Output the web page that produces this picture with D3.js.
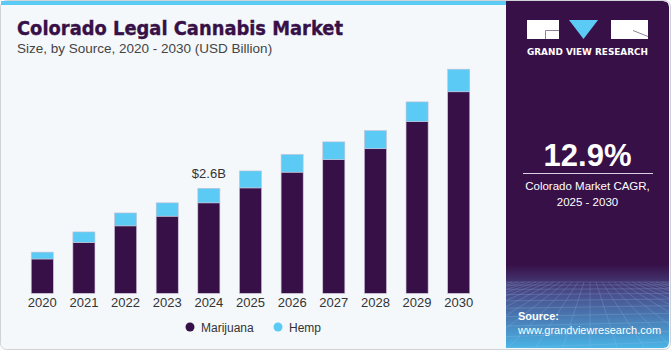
<!DOCTYPE html>
<html>
<head>
<meta charset="utf-8">
<script src="https://cdn.jsdelivr.net/npm/d3@7"></script>
<style>
  html, body { margin: 0; padding: 0; background: #fff; }
  svg { display: block; font-family: "Liberation Sans", Arial, sans-serif; }
</style>
</head>
<body>
<div id="chart"></div>
<script>
// data (USD billion)
const years     = ["2020","2021","2022","2023","2024","2025","2026","2027","2028","2029","2030"];
const marijuana = [0.85, 1.26, 1.67, 1.91, 2.24, 2.61, 3.00, 3.31, 3.58, 4.25, 4.99];
const hemp      = [0.17, 0.26, 0.32, 0.33, 0.36, 0.42, 0.44, 0.44, 0.45, 0.49, 0.56];
const seriesNames = ["Marijuana", "Hemp"];
const seriesColors = ["#381048", "#5bcbf5"];
const callout = { year: "2024", label: "$2.6B" };

(() => {
  const W = 671, H = 350;
  const svg = d3.select("#chart").append("svg")
    .attr("width", W).attr("height", H);

  const defs = svg.append("defs");
  const grad = defs.append("linearGradient").attr("id", "panelGrad")
    .attr("x1", 0).attr("y1", 0).attr("x2", 0).attr("y2", 1);
  grad.append("stop").attr("offset", "0%").attr("stop-color", "#381048");
  grad.append("stop").attr("offset", "76%").attr("stop-color", "#381048");
  grad.append("stop").attr("offset", "84%").attr("stop-color", "#4a4c8a");
  grad.append("stop").attr("offset", "100%").attr("stop-color", "#4bb4e6");

  // panel shape: square on the left, rounded on the right
  const panelPath = "M506,1 H663 Q669,1 669,7 V342 Q669,348 663,348 H506 Z";
  defs.append("clipPath").attr("id", "panelClip").append("path").attr("d", panelPath);

  // card background + border
  svg.append("rect").attr("x", 0.5).attr("y", 0.5).attr("width", W - 1).attr("height", H - 1)
    .attr("rx", 6).attr("fill", "#f4f8fb").attr("stroke", "#cfd3d6");

  // top blue strip
  svg.append("rect").attr("x", 1).attr("y", 1).attr("width", 506).attr("height", 4)
    .attr("fill", "#5bcbf5");

  // ---- chart area
  const margin = { left: 20, right: 190 };
  const innerW = W - margin.left - margin.right;
  const baseY = 293.3;

  const x = d3.scaleBand().domain(years)
    .range([margin.left, margin.left + innerW]).paddingInner(0.47).paddingOuter(0.27);
  const y = d3.scaleLinear().domain([0, 2.6]).range([baseY, 188.3]);

  const stacked = d3.stack().keys([0, 1])
    .value((d, k) => k === 0 ? d.m : d.h)(years.map((yr, i) => ({ yr, m: marijuana[i], h: hemp[i] })));

  const g = svg.append("g");
  g.selectAll("g.series")
    .data(stacked)
    .join("g")
    .attr("class", "series")
    .attr("fill", (d, i) => seriesColors[i])
    .selectAll("rect")
    .data(d => d)
    .join("rect")
    .attr("x", d => x(d.data.yr))
    .attr("width", x.bandwidth())
    .attr("y", d => y(d[1]))
    .attr("height", d => y(d[0]) - y(d[1]))
    .attr("stroke", "#c9c2d6")
    .attr("stroke-width", 0.6);

  // x axis labels
  const axis = svg.append("g")
    .attr("transform", `translate(0,${baseY})`)
    .call(d3.axisBottom(x).tickSize(0).tickPadding(4));
  axis.select(".domain").remove();
  axis.selectAll("text")
    .attr("font-family", "Liberation Sans, Arial, sans-serif")
    .attr("font-size", 13).attr("fill", "#333");

  // callout
  const ci = years.indexOf(callout.year);
  svg.append("text")
    .attr("x", x(callout.year) + x.bandwidth() / 2)
    .attr("y", y(marijuana[ci] + hemp[ci]) - 10)
    .attr("text-anchor", "middle")
    .attr("font-size", 13).attr("fill", "#333")
    .text(callout.label);

  // legend
  const leg = svg.append("g").attr("transform", "translate(0,327)");
  const legX = [190, 278];
  seriesNames.forEach((n, i) => {
    leg.append("circle").attr("cx", legX[i]).attr("cy", 0).attr("r", 4.5).attr("fill", seriesColors[i]);
    leg.append("text").attr("x", legX[i] + 11).attr("y", 4.5)
      .attr("font-size", 12).attr("fill", "#333").text(n);
  });

  // titles
  svg.append("text").attr("x", 17).attr("y", 35)
    .attr("font-family", "DejaVu Sans, sans-serif")
    .attr("font-weight", "bold").attr("font-size", 20).attr("fill", "#381048")
    .attr("stroke", "#381048").attr("stroke-width", 0.4)
    .attr("textLength", 326).attr("lengthAdjust", "spacingAndGlyphs")
    .text("Colorado Legal Cannabis Market");
  svg.append("text").attr("x", 17).attr("y", 53)
    .attr("font-size", 13.5).attr("fill", "#444")
    .text("Size, by Source, 2020 - 2030 (USD Billion)");

  // ---- right panel
  const p = svg.append("g").attr("clip-path", "url(#panelClip)");
  p.append("path").attr("d", panelPath).attr("fill", "url(#panelGrad)");

  // perspective grid at the bottom
  const grid = p.append("g").attr("stroke", "#9fc7e8").attr("stroke-width", 0.5).attr("fill", "none")
    .attr("opacity", 0.45);
  const horizon = 282, vx = 590;
  d3.range(-30, 31).forEach(k => {
    grid.append("line").attr("x1", vx + k * 6).attr("y1", horizon)
      .attr("x2", vx + k * 28).attr("y2", 350);
  });
  [0, 3, 7, 12, 18, 25, 33, 42, 52, 63].forEach(dy => {
    grid.append("line").attr("x1", 506).attr("x2", 669)
      .attr("y1", horizon + dy + (dy * 0.05)).attr("y2", horizon + dy - (dy * 0.05));
  });

  // logo
  const logo = p.append("g");
  logo.append("rect").attr("x", 527).attr("y", 20).attr("width", 32).attr("height", 19).attr("fill", "#fff");
  logo.append("path").attr("d", "M545.5,39 V30.5 H559").attr("stroke", "#8c8398").attr("stroke-width", 1).attr("fill", "none");
  logo.append("path").attr("d", "M569,20 L598,20 L583.5,39 Z").attr("fill", "#5bcbf5");
  logo.append("rect").attr("x", 611).attr("y", 20).attr("width", 37).attr("height", 19).attr("fill", "#fff");
  logo.append("path").attr("d", "M633,30.5 L648,36.5").attr("stroke", "#8c8398").attr("stroke-width", 1);
  logo.append("text").attr("x", 587.5).attr("y", 54.5).attr("text-anchor", "middle")
    .attr("font-family", "DejaVu Sans, sans-serif").attr("font-weight", "bold")
    .attr("font-size", 9.5).attr("fill", "#fff")
    .attr("textLength", 121).attr("lengthAdjust", "spacingAndGlyphs")
    .text("GRAND VIEW RESEARCH");

  // CAGR
  p.append("text").attr("x", 587.5).attr("y", 166).attr("text-anchor", "middle")
    .attr("font-weight", "bold").attr("font-size", 31).attr("fill", "#fff").text("12.9%");
  p.append("line").attr("x1", 523).attr("x2", 653).attr("y1", 173.5).attr("y2", 173.5)
    .attr("stroke", "#d9d0e0").attr("stroke-width", 1);
  p.append("text").attr("x", 587.5).attr("y", 190).attr("text-anchor", "middle")
    .attr("font-size", 11.5).attr("fill", "#fff")
    .text("Colorado Market CAGR,");
  p.append("text").attr("x", 587.5).attr("y", 205.5).attr("text-anchor", "middle")
    .attr("font-size", 11.5).attr("fill", "#fff")
    .text("2025 - 2030");

  // source
  p.append("text").attr("x", 518).attr("y", 320).attr("font-weight", "bold")
    .attr("font-size", 11).attr("fill", "#fff")
    .text("Source:");
  p.append("text").attr("x", 518).attr("y", 334)
    .attr("font-size", 11).attr("fill", "#fff")
    .text("www.grandviewresearch.com");
})();
</script>
</body>
</html>
